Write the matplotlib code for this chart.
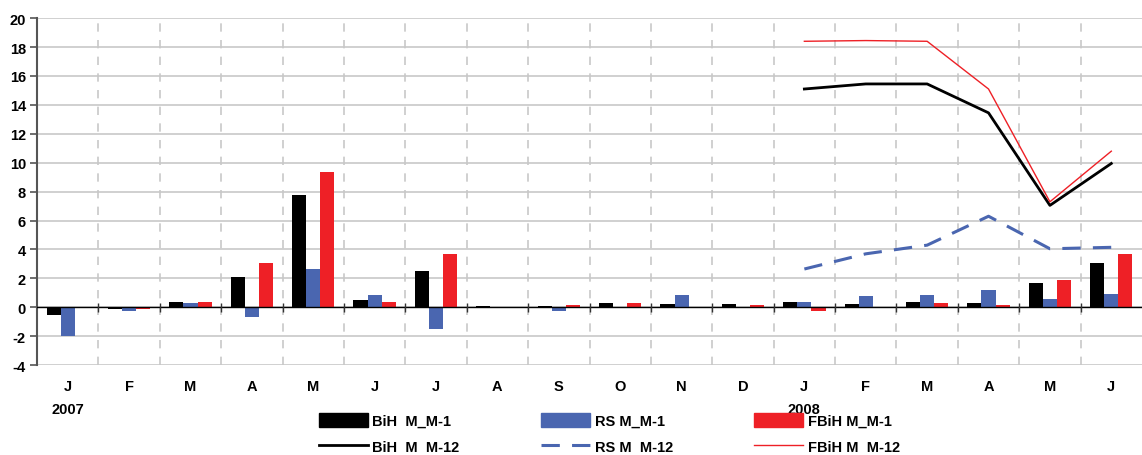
import numpy as np
import matplotlib.pyplot as plt
from matplotlib.lines import Line2D
from matplotlib.patches import Patch

plt.rcParams['font.family'] = ['Liberation Sans', 'DejaVu Sans']
plt.rcParams['font.weight'] = 'bold'
plt.rcParams['axes.unicode_minus'] = False

months = ['J', 'F', 'M', 'A', 'M', 'J', 'J', 'A', 'S', 'O', 'N', 'D',
          'J', 'F', 'M', 'A', 'M', 'J']
years = {0: '2007', 12: '2008'}

# mjesecne promjene (M_M-1)
bih_m1 = [-0.5, -0.1, 0.4, 2.1, 7.8, 0.5, 2.5, 0.1, 0.1, 0.3, 0.2, 0.2,
          0.4, 0.2, 0.4, 0.3, 1.7, 3.1]
rs_m1 = [-2.0, -0.25, 0.3, -0.7, 2.65, 0.85, -1.5, 0.0, -0.25, -0.05, 0.85, 0.05,
         0.35, 0.8, 0.85, 1.2, 0.55, 0.9]
fbih_m1 = [0.0, -0.1, 0.35, 3.05, 9.35, 0.35, 3.7, 0.05, 0.15, 0.3, 0.0, 0.15,
           -0.25, 0.0, 0.3, 0.15, 1.9, 3.7]

# godisnje promjene (M_M-12), samo 2008
idx12 = [12, 13, 14, 15, 16, 17]
bih_m12 = [15.1, 15.45, 15.45, 13.45, 7.05, 9.95]
rs_m12 = [2.65, 3.7, 4.3, 6.3, 4.05, 4.15]
fbih_m12 = [18.4, 18.45, 18.4, 15.1, 7.3, 10.8]

black = '#000000'
blue = '#4a66b0'
red = '#ee2026'
fs = 10.5

fig = plt.figure(figsize=(11.42, 4.56), dpi=100)
ax = fig.add_axes([0.0324, 0.197, 0.9676, 0.761])

x = np.arange(len(months))
w = 0.23
ax.bar(x - w, bih_m1, w, color=black, zorder=3)
ax.bar(x, rs_m1, w, color=blue, zorder=3)
ax.bar(x + w, fbih_m1, w, color=red, zorder=3)

ax.plot(idx12, bih_m12, color=black, lw=2, zorder=4)
ax.plot(idx12, rs_m12, color=blue, lw=2.2, dashes=(6, 4), zorder=4)
ax.plot(idx12, fbih_m12, color=red, lw=1, zorder=4)

ax.set_xlim(-0.5, len(months) - 0.5)
ax.set_ylim(-4, 20)
ax.set_yticks(range(-4, 21, 2))
ax.yaxis.grid(True, color='#c8c8c8', lw=1.2, zorder=0)
for b in x[1:] - 0.5:
    ax.axvline(b, color='#c8c8c8', lw=1.2, dashes=(5, 5), zorder=0)
ax.axhline(0, color=black, lw=1, zorder=5)
ax.vlines(x[1:] - 0.5, -0.3, 0.3, color='#333333', lw=1, zorder=5)

ax.set_xticks(x)
ax.set_xticklabels(months, fontsize=fs, fontweight='bold')
ax.tick_params(axis='x', length=0, pad=10)
ax.tick_params(axis='y', labelsize=fs, length=5, width=1.2, color='#555555', pad=3)
for i, yr in years.items():
    ax.text(i, -7.0, yr, ha='center', va='center', fontsize=fs, fontweight='bold')

for s in ['top', 'right', 'bottom']:
    ax.spines[s].set_visible(False)
ax.spines['left'].set_color('#555555')
ax.spines['left'].set_linewidth(1.5)

handles = [Patch(color=black), Line2D([], [], color=black, lw=2),
           Patch(color=blue), Line2D([], [], color=blue, lw=2.2, dashes=(6, 4)),
           Patch(color=red), Line2D([], [], color=red, lw=1)]
labels = ['BiH  M_M-1', 'BiH  M  M-12', 'RS M_M-1', 'RS M  M-12',
          'FBiH M_M-1', 'FBiH M  M-12']
fig.legend(handles, labels, ncol=3, loc='lower left', bbox_to_anchor=(0.268, -0.027),
           frameon=False, fontsize=fs, handlelength=3.35, handleheight=1.0,
           handletextpad=0.3, columnspacing=5.6, labelspacing=0.8)

fig.savefig('out.png', dpi=100)
